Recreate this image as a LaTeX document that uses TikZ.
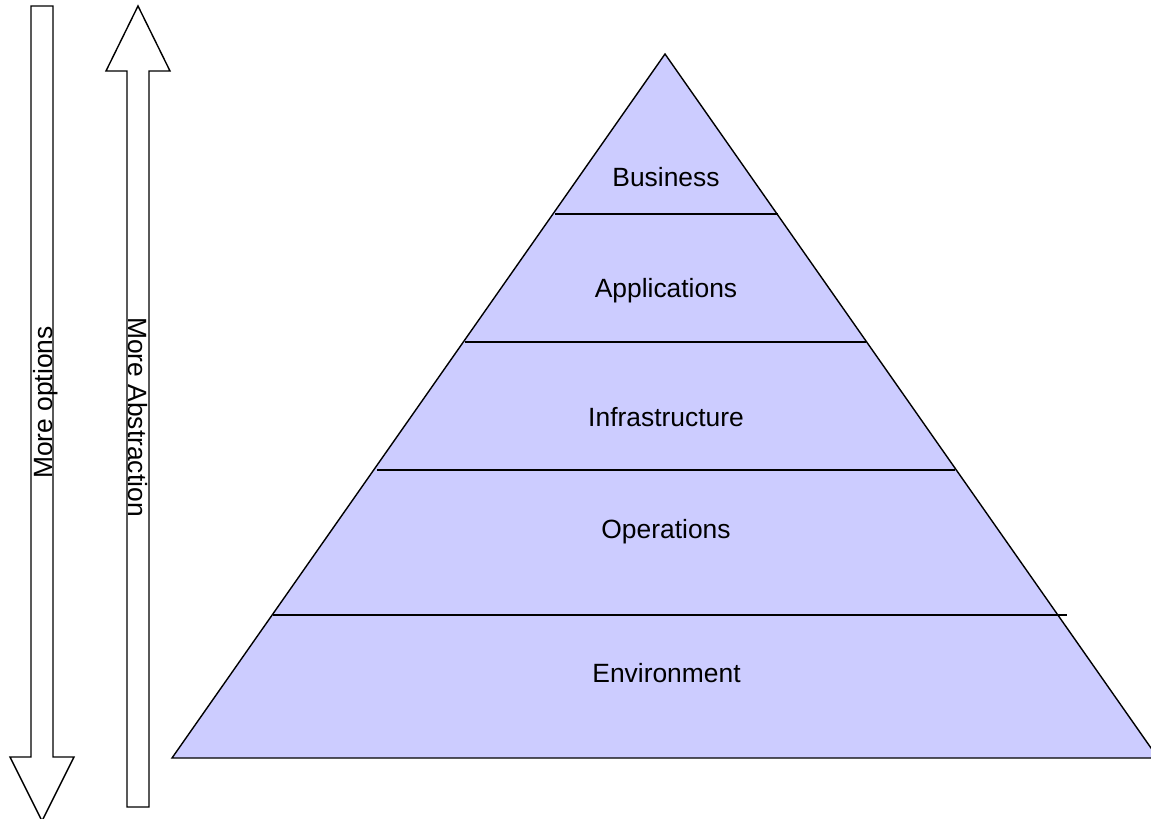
\documentclass[tikz,border=0pt]{standalone}
\usepackage{fontspec}
\setmainfont{Liberation Sans}
\definecolor{layerfill}{HTML}{CCCCFF}
\tikzset{
  outline/.style={draw=black,line width=1.4pt,line join=miter},
  divider/.style={draw=black,line width=1.4pt},
  label/.style={inner sep=0pt,anchor=base,font=\fontsize{26.4}{30}\selectfont},
}
\begin{document}
\begin{tikzpicture}[x=1pt,y=-1pt]
\useasboundingbox (0,0) rectangle (1151,819);
% arrows
\draw[outline,fill=white] (31,6) -- (53,6) -- (53,757) -- (74,757) -- (42,821) -- (10,757) -- (31,757) -- cycle;
\draw[outline,fill=white] (138,6) -- (170,71) -- (149,71) -- (149,807) -- (127,807) -- (127,71) -- (106,71) -- cycle;
\node[label,rotate=90] (opt) at (52.5,402.5) {More options};
\node[label,rotate=-90] (abs) at (128,417) {More Abstraction};
% pyramid
\coordinate (apex) at (665,54);
\coordinate (bl) at (172,758);
\coordinate (br) at (1158,758);
\fill[layerfill] (apex) -- (bl) -- (br) -- cycle;
\draw[divider] (555,214) -- (778,214);
\draw[divider] (465,342) -- (866,342);
\draw[divider] (377,470) -- (955,470);
\draw[divider] (273,615) -- (1067,615);
\draw[outline] (apex) -- (bl) -- (br) -- cycle;
\node[label] (business) at (666,186) {Business};
\node[label] (apps) at (666,297) {Applications};
\node[label] (infra) at (666,426) {Infrastructure};
\node[label] (ops) at (666,538) {Operations};
\node[label] (env) at (666.5,682) {Environment};
\end{tikzpicture}
\end{document}
